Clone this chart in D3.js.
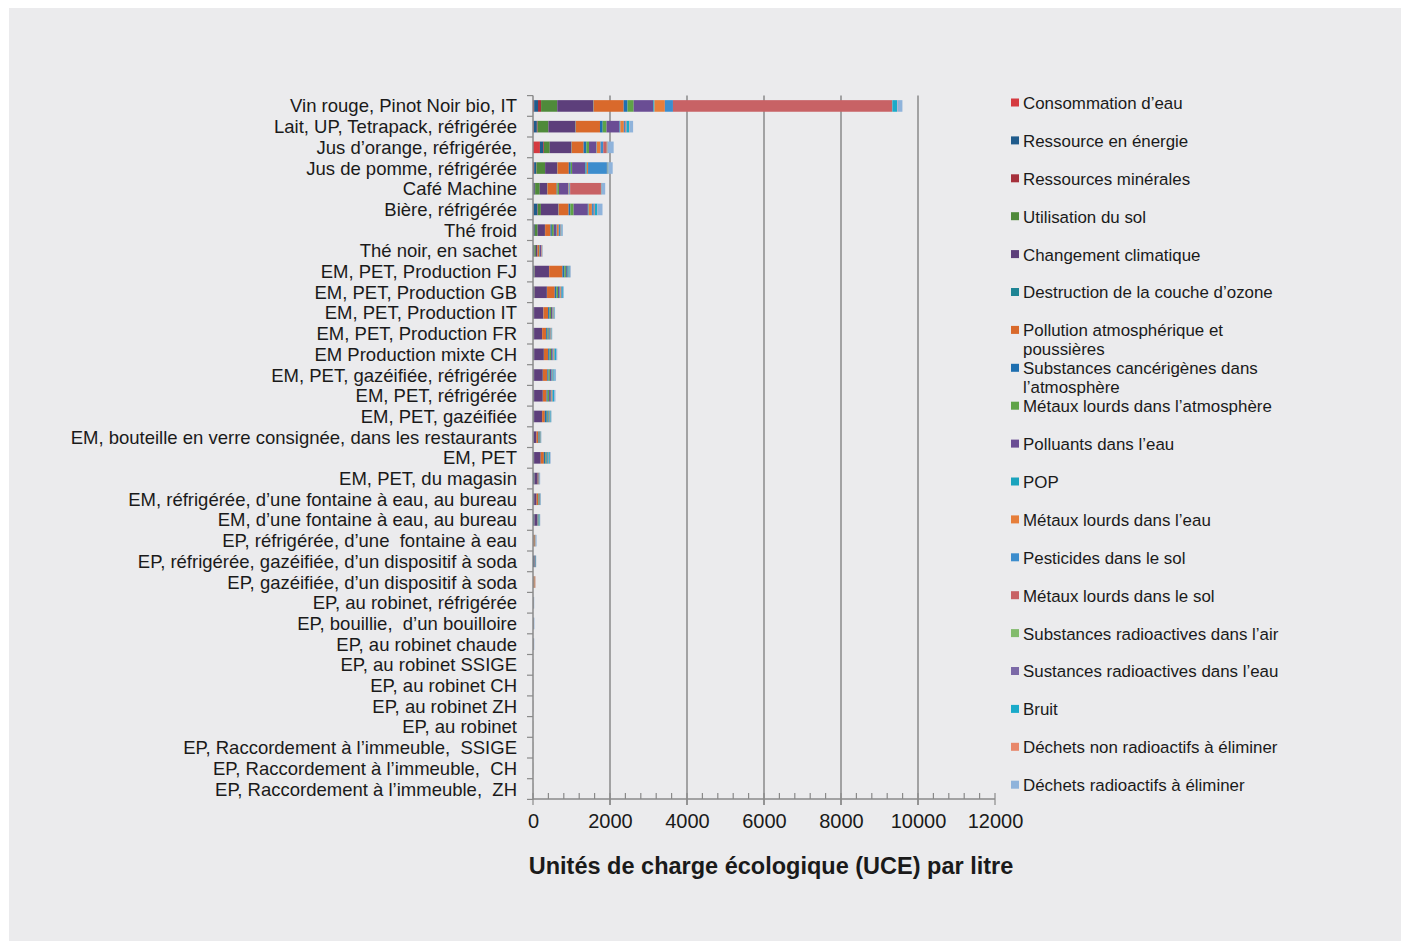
<!DOCTYPE html>
<html><head><meta charset="utf-8">
<script src="https://cdn.jsdelivr.net/npm/d3@7"></script>
<style>
html,body{margin:0;padding:0;background:#fff;}
svg{display:block;}
text{font-family:"Liberation Sans",Arial,sans-serif;fill:#1a1a1a;}
</style></head><body>
<svg id="c" width="1406" height="946"></svg>
<script>
const categories = [
"Vin rouge, Pinot Noir bio, IT","Lait, UP, Tetrapack, réfrigérée","Jus d’orange, réfrigérée,","Jus de pomme, réfrigérée",
"Café Machine","Bière, réfrigérée","Thé froid","Thé noir, en sachet","EM, PET, Production FJ","EM, PET, Production GB",
"EM, PET, Production IT","EM, PET, Production FR","EM Production mixte CH","EM, PET, gazéifiée, réfrigérée",
"EM, PET, réfrigérée","EM, PET, gazéifiée","EM, bouteille en verre consignée, dans les restaurants","EM, PET",
"EM, PET, du magasin","EM, réfrigérée, d’une fontaine à eau, au bureau","EM, d’une fontaine à eau, au bureau",
"EP, réfrigérée, d’une  fontaine à eau","EP, réfrigérée, gazéifiée, d’un dispositif à soda","EP, gazéifiée, d’un dispositif à soda",
"EP, au robinet, réfrigérée","EP, bouillie,  d’un bouilloire","EP, au robinet chaude","EP, au robinet SSIGE",
"EP, au robinet CH","EP, au robinet ZH","EP, au robinet","EP, Raccordement à l’immeuble,  SSIGE",
"EP, Raccordement à l’immeuble,  CH","EP, Raccordement à l’immeuble,  ZH"];

const seriesNames = ["Consommation d’eau","Ressource en énergie","Ressources minérales","Utilisation du sol",
"Changement climatique","Destruction de la couche d’ozone","Pollution atmosphérique et|poussières",
"Substances cancérigènes dans|l’atmosphère","Métaux lourds dans l’atmosphère","Polluants dans l’eau","POP",
"Métaux lourds dans l’eau","Pesticides dans le sol","Métaux lourds dans le sol","Substances radioactives dans l’air",
"Sustances radioactives dans l’eau","Bruit","Déchets non radioactifs à éliminer","Déchets radioactifs à éliminer"];

const seriesColors = ["#d53a40","#1f5b8c","#a5303b","#4f8a3a","#5d3f7b","#1e8494","#d9692b","#1e6fb0","#5fa347",
"#6a4d94","#1aa3bd","#e67e3a","#3c8dcd","#c86265","#82bb6c","#7b69a7","#1aaac9","#e8876a","#8fb3db"];

const eauConsommation = [30,20,180,30,10,15,10,5,5,5,3,3,3,3,3,3,2,3,3,3,2,1,1,1,1,1,1,0,0,0,0,0,0,0];
const energie = [100,80,85,50,35,100,35,30,25,20,15,15,15,15,15,15,10,15,30,20,30,5,30,5,3,5,4,1,1,1,1,1,1,1];
const mineraux = [80,20,20,10,10,10,5,5,5,5,3,3,3,3,3,3,2,3,3,3,2,1,1,1,0,0,0,0,0,0,0,0,0,0];
const sol = [420,280,150,225,120,80,70,35,10,10,8,8,10,8,8,8,5,8,5,5,5,1,1,1,0,0,0,0,0,0,0,0,0,0];
const climat = [935,700,560,310,190,450,190,40,370,320,240,205,250,225,225,205,70,170,80,60,70,5,10,5,5,5,5,2,2,2,1,1,1,1];
const ozone = [10,10,10,10,10,10,5,3,5,5,3,3,3,3,3,3,2,3,2,2,2,1,1,1,0,0,0,0,0,0,0,0,0,0];
const pollutionAtm = [780,630,310,295,240,260,140,40,345,200,120,105,110,115,95,70,45,80,15,40,10,30,5,25,3,3,3,1,1,1,1,1,1,1];
const cancerigenes = [100,70,70,50,20,45,35,10,50,45,35,35,35,30,30,50,15,40,5,10,15,5,15,2,2,3,2,0,0,0,0,0,0,0];
const metauxAtm = [160,100,70,35,40,85,50,10,40,40,40,30,40,35,35,25,20,30,5,15,10,2,2,2,1,1,1,0,0,0,0,0,0,0];
const polluantsEau = [510,340,190,345,240,370,70,30,25,40,30,25,40,40,45,20,10,20,10,15,5,2,2,2,1,1,1,0,0,0,0,0,0,0];
const pop = [30,20,10,35,10,20,10,3,25,20,15,10,20,15,15,30,10,25,3,5,15,2,2,1,1,1,1,0,0,0,0,0,0,0];
const metauxEau = [270,90,100,35,20,85,50,10,15,20,15,15,15,15,15,10,5,10,3,5,3,5,2,5,1,1,1,0,0,0,0,0,0,0];
const pesticides = [210,40,70,490,20,50,40,5,20,20,10,10,15,15,15,10,5,10,3,5,5,2,2,1,1,1,1,0,0,0,0,0,0,0];
const metauxSol = [5690,20,90,10,800,20,10,10,5,5,5,5,5,5,5,3,2,3,1,2,1,1,1,1,0,0,0,0,0,0,0,0,0,0];
const radioAir = [5,5,5,5,5,5,3,1,2,2,2,2,2,2,2,1,1,1,1,1,1,0,0,0,0,0,0,0,0,0,0,0,0,0];
const radioEau = [5,5,5,5,5,5,3,1,2,2,2,2,2,2,2,1,1,1,1,1,1,0,0,0,0,0,0,0,0,0,0,0,0,0];
const bruit = [120,70,10,20,10,60,15,5,15,20,15,12,30,30,30,15,5,20,5,5,5,5,3,1,1,1,1,0,0,0,0,0,0,0];
const dechets = [10,10,10,5,5,5,5,2,3,3,2,2,2,2,2,2,1,2,1,1,1,5,1,10,1,1,1,0,0,0,0,0,0,0];
const dechetsRadio = [130,90,150,105,85,130,30,5,15,20,10,10,30,35,35,5,5,15,10,10,5,20,5,3,10,12,10,1,1,1,1,1,1,1];

const xTicks = [0,2000,4000,6000,8000,10000,12000];
const xTitle = "Unités de charge écologique (UCE) par litre";

const seriesValues = [eauConsommation,energie,mineraux,sol,climat,ozone,pollutionAtm,cancerigenes,metauxAtm,
  polluantsEau,pop,metauxEau,pesticides,metauxSol,radioAir,radioEau,bruit,dechets,dechetsRadio];

const svg = d3.select("#c");
svg.append("rect").attr("x",9).attr("y",8).attr("width",1392).attr("height",933).attr("fill","#ebebed");

const x = d3.scaleLinear().domain([0,12000]).range([533,995]);
const y = d3.scaleBand().domain(categories).range([95.6,799.4]).paddingInner(0.44).paddingOuter(0.22);
const axisCol = "#8a8a8a";

// gridlines
svg.append("g").selectAll("line").data(xTicks.filter(d=>d>0&&d<12000)).join("line")
  .attr("x1",d=>x(d)).attr("x2",d=>x(d)).attr("y1",95.6).attr("y2",805)
  .attr("stroke",axisCol).attr("stroke-width",1.5);

// stacked bars
const table = categories.map((c,i)=>{const o={cat:c}; seriesValues.forEach((s,j)=>o["s"+j]=s[i]); return o;});
const keys = seriesValues.map((s,j)=>"s"+j);
const stack = d3.stack().keys(keys)(table);
svg.append("g").selectAll("g").data(stack).join("g").attr("fill",(d,i)=>seriesColors[i])
  .selectAll("rect").data(d=>d).join("rect")
  .attr("x",d=>x(d[0])).attr("width",d=>Math.max(0,x(d[1])-x(d[0])))
  .attr("y",d=>y(d.data.cat)).attr("height",y.bandwidth());

// y axis
const step = (799.4-95.6)/categories.length;
svg.append("line").attr("x1",533).attr("x2",533).attr("y1",95.6).attr("y2",799.4).attr("stroke",axisCol).attr("stroke-width",1.5);
svg.append("g").selectAll("line").data(d3.range(categories.length+1)).join("line")
  .attr("x1",527).attr("x2",533).attr("y1",i=>95.6+i*step).attr("y2",i=>95.6+i*step)
  .attr("stroke",axisCol).attr("stroke-width",1.2);
svg.append("g").selectAll("text").data(categories).join("text")
  .attr("x",517).attr("y",d=>y(d)+y.bandwidth()/2).attr("dy","0.35em")
  .attr("text-anchor","end").attr("font-size","18.5px").style("white-space","pre").text(d=>d);

// x axis
const xAxis = d3.axisBottom(x).tickValues(xTicks).tickSize(0).tickFormat(d3.format("d"));
const gx = svg.append("g").attr("transform","translate(0,799)").call(xAxis);
gx.select(".domain").remove();
gx.selectAll("text").attr("font-size","20px").attr("dy","0").attr("y",29).style("font-family","'Liberation Sans',Arial,sans-serif").attr("fill","#1a1a1a");
svg.append("line").attr("x1",533).attr("x2",995).attr("y1",799).attr("y2",799).attr("stroke",axisCol).attr("stroke-width",1.5);
svg.append("g").selectAll("line").data(d3.range(0,12001,400)).join("line")
  .attr("x1",d=>x(d)).attr("x2",d=>x(d))
  .attr("y1",d=>d%2000===0?793:793).attr("y2",d=>d%2000===0?805:799)
  .attr("stroke",axisCol).attr("stroke-width",1.2);

svg.append("text").attr("x",(529+1013)/2).attr("y",866).attr("dy","0.35em").attr("text-anchor","middle")
  .attr("font-size","23.5px").attr("font-weight","bold").text(xTitle);

// legend
const lg = svg.append("g").selectAll("g").data(seriesNames).join("g")
  .attr("transform",(d,i)=>`translate(1011,${103+i*37.9})`);
lg.append("rect").attr("x",0).attr("y",-4.5).attr("width",8).attr("height",8).attr("fill",(d,i)=>seriesColors[i]);
lg.each(function(d){
  const t = d3.select(this).append("text").attr("x",12).attr("y",0).attr("font-size","16.9px");
  d.split("|").forEach((line,k)=>t.append("tspan").attr("x",12).attr("y",k*19).attr("dy","0.35em").text(line));
});
</script></body></html>
